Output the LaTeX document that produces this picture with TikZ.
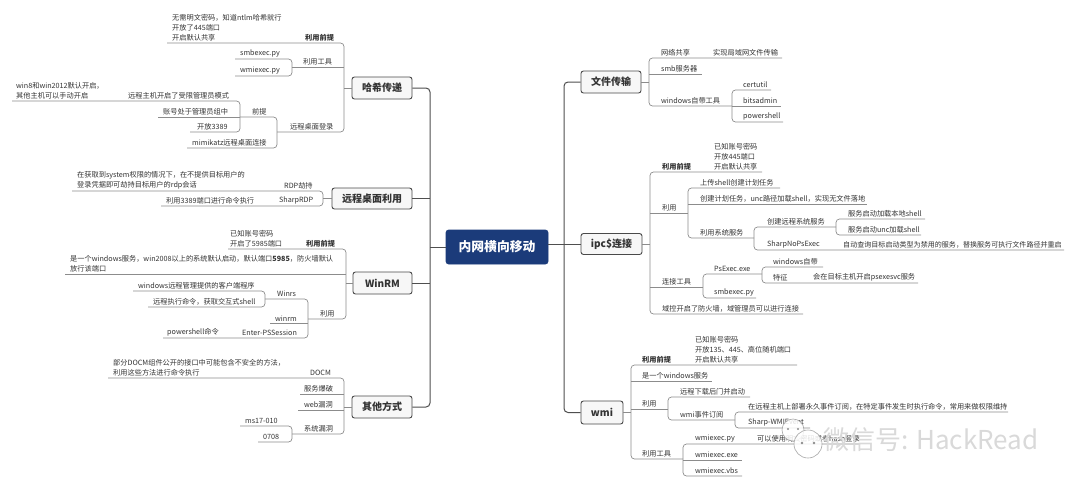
\documentclass[tikz,border=0pt]{standalone}
\usepackage{fontspec}
\setmainfont{Noto Sans CJK SC}
\definecolor{txtc}{HTML}{333333}
\definecolor{linec}{HTML}{8C8C8C}
\definecolor{trunkc}{HTML}{4F4F4F}
\definecolor{boxf}{HTML}{F7F7F7}
\definecolor{boxd}{HTML}{4A4A4A}
\definecolor{navy}{HTML}{1B3B7A}
\newcommand\smallfs{\fontsize{7.2}{10}\selectfont}
\tikzset{
  tx/.style={anchor=south west, inner xsep=0pt, inner ysep=0.8pt, font=\smallfs, text=txtc, align=left},
  tb/.style={tx, font=\smallfs\bfseries},
  mb/.style={draw=boxd, fill=boxf, rounded corners=2.5pt, line width=0.9pt, font=\fontsize{10}{12}\selectfont\bfseries, text=txtc, inner sep=0pt, minimum height=22pt},
  cb/.style={draw=navy, fill=navy, rounded corners=2.5pt, line width=0.6pt, font=\fontsize{12.8}{14}\selectfont\bfseries, text=white, inner sep=0pt, minimum width=102pt, minimum height=34pt},
  ln/.style={draw=linec, line width=0.7pt},
  br/.style={ln, rounded corners=3.5pt},
  trunk/.style={draw=trunkc, line width=1pt, rounded corners=4pt},
}
\begin{document}
\begin{tikzpicture}[x=1pt, y=-1pt]
\useasboundingbox (0,0) rectangle (1080,488);
\fill[white] (0,0) rectangle (1080,488);

% ---------- main nodes ----------
\node[cb] (ctr) at (497,247) {内网横向移动};
\node[mb, minimum width=60pt] (hash) at (382,88) {哈希传递};
\node[mb, minimum width=80pt, minimum height=21pt] (rdp) at (372,198.5) {远程桌面利用};
\node[mb, minimum width=59pt] (winrm) at (382.5,283) {WinRM};
\node[mb, minimum width=60pt] (other) at (382,407) {其他方式};
\node[mb, minimum width=60pt] (file) at (611,82) {文件传输};
\node[mb, minimum width=61pt, minimum height=21pt] (ipc) at (611.5,244) {ipc\$连接};
\node[mb, minimum width=42pt, minimum height=23pt] (wmi) at (602,412.5) {wmi};

% ---------- trunks ----------
\draw[trunk] (hash.east) -- (430,88) -- (430,407) -- (other.east);
\draw[trunk] (rdp.east) -- (430,198.5);
\draw[trunk] (winrm.east) -- (430,283);
\draw[trunk] (ctr.west) -- (430,247);
\draw[trunk] (file.west) -- (564,82) -- (564,412.5) -- (wmi.west);
\draw[trunk] (ctr.east |- ipc.west) -- (ipc.west);

% ---------- 哈希传递 ----------
\draw[br] (167,43) -- (344,43) -- (344,132) -- (277,132);
\draw[ln] (292,67) -- (344,67);
\draw[ln] (344,88) -- (hash.west);
\draw[br] (235,59) -- (292,59) -- (292,76) -- (235,76);
\draw[br] (240,117) -- (277,117) -- (277,148) -- (187,148);
\draw[br] (12,101) -- (240,101) -- (240,132) -- (190,132);
\draw[ln] (158,117) -- (240,117);
\node[tb] (h1) at (305,42) {利用前提};
\node[tx] (h1a) at (172,42) {无需明文密码，知道ntlm哈希就行\\开放了445端口\\开启默认共享};
\node[tx] (h2) at (303,66) {利用工具};
\node[tx] (h2a) at (240,58) {smbexec.py};
\node[tx] (h2b) at (240,75) {wmiexec.py};
\node[tx] (h3) at (290,131) {远程桌面登录};
\node[tx] (h3a) at (252,116) {前提};
\node[tx] (h3a1) at (128,100) {远程主机开启了受限管理员模式};
\node[tx] (h3a1a) at (16,100) {win8和win2012默认开启，\\其他主机可以手动开启};
\node[tx] (h3a2) at (163,116) {账号处于管理员组中};
\node[tx] (h3a3) at (197,131) {开放3389};
\node[tx] (h3b) at (192,147) {mimikatz远程桌面连接};

% ---------- 远程桌面利用 ----------
\draw[br] (72,191) -- (323,191) -- (323,206) -- (161,206);
\draw[ln] (323,198.5) -- (rdp.west);
\node[tx] (r1) at (284,190) {RDP劫持};
\node[tx] (r1a) at (77,190) {在获取到system权限的情况下，在不提供目标用户的\\登录凭据即可劫持目标用户的rdp会话};
\node[tx] (r2) at (279,205) {SharpRDP};
\node[tx] (r2a) at (166,205) {利用3389端口进行命令执行};

% ---------- WinRM ----------
\draw[br] (228,249) -- (346,249) -- (346,319) -- (308,319);
\draw[ln] (65,274) -- (346,274);
\draw[ln] (346,283) -- (winrm.west);
\draw[br] (265,299) -- (308,299) -- (308,338) -- (163,338);
\draw[ln] (270,323) -- (308,323);
\draw[br] (133,291) -- (265,291) -- (265,307) -- (148,307);
\node[tb] (w1) at (306,248) {利用前提};
\node[tx] (w1a) at (230,248) {已知账号密码\\开启了5985端口};
\node[tx] (w2) at (70,273) {是一个windows服务，win2008以上的系统默认启动，默认端口\textbf{5985}，防火墙默认\\放行该端口};
\node[tx] (w3) at (320,318) {利用};
\node[tx] (w3a) at (277,298) {Winrs};
\node[tx] (w3a1) at (138,290) {windows远程管理提供的客户端程序};
\node[tx] (w3a2) at (153,306) {远程执行命令，获取交互式shell};
\node[tx] (w3b) at (275,322) {winrm};
\node[tx] (w3c) at (242,337) {Enter-PSSession};
\node[tx] (w3c1) at (167,337) {powershell命令};

% ---------- 其他方式 ----------
\draw[br] (108,378) -- (344,378) -- (344,434) -- (292,434);
\draw[ln] (300,394) -- (344,394);
\draw[ln] (298,410) -- (344,410);
\draw[ln] (344,407) -- (other.west);
\draw[br] (240,426) -- (292,426) -- (292,442) -- (258,442);
\node[tx] (o1) at (310,377) {DOCM};
\node[tx] (o1a) at (113,377) {部分DOCM组件公开的接口中可能包含不安全的方法，\\利用这些方法进行命令执行};
\node[tx] (o2) at (304,393) {服务爆破};
\node[tx] (o3) at (304,409) {web漏洞};
\node[tx] (o4) at (304,433) {系统漏洞};
\node[tx] (o4a) at (245,425) {ms17-010};
\node[tx] (o4b) at (263,441) {0708};

% ---------- 文件传输 ----------
\draw[br] (782,58) -- (649,58) -- (649,106) -- (732,106);
\draw[ln] (649,74) -- (702,74);
\draw[ln] (file.east) -- (649,82);
\draw[br] (771,90) -- (732,90) -- (732,122) -- (783,122);
\draw[ln] (732,106) -- (781,106);
\node[tx] (f1) at (661,57) {网络共享};
\node[tx] (f1a) at (713,57) {实现局域网文件传输};
\node[tx] (f2) at (661,73) {smb服务器};
\node[tx] (f3) at (661,105) {windows自带工具};
\node[tx] (f3a) at (743,89) {certutil};
\node[tx] (f3b) at (743,105) {bitsadmin};
\node[tx] (f3c) at (743,121) {powershell};

% ---------- ipc$连接 ----------
\draw[br] (762,172) -- (650,172) -- (650,314) -- (803,314);
\draw[ln] (650,213) -- (688,213);
\draw[ln] (650,287) -- (703,287);
\draw[ln] (ipc.east) -- (650,244);
\draw[br] (780,188) -- (688,188) -- (688,238) -- (754,238);
\draw[ln] (688,204) -- (867,204);
\draw[br] (836,227) -- (754,227) -- (754,250) -- (1064,250);
\draw[br] (925,219) -- (836,219) -- (836,235) -- (921,235);
\draw[br] (762,274) -- (703,274) -- (703,298) -- (756,298);
\draw[br] (823,267) -- (762,267) -- (762,283) -- (918,283);
\node[tb] (i1) at (662,171) {利用前提};
\node[tx] (i1a) at (714,171) {已知账号密码\\开放445端口\\开启默认共享};
\node[tx] (i2) at (662,212) {利用};
\node[tx] (i2a) at (700,187) {上传shell创建计划任务};
\node[tx] (i2b) at (700,203) {创建计划任务，unc路径加载shell，实现无文件落地};
\node[tx] (i2c) at (700,237) {利用系统服务};
\node[tx] (i2c1) at (767,226) {创建远程系统服务};
\node[tx] (i2c1a) at (848,218) {服务启动加载本地shell};
\node[tx] (i2c1b) at (848,234) {服务启动unc加载shell};
\node[tx] (i2c2) at (767,249) {SharpNoPsExec};
\node[tx, font=\fontsize{7.05}{10}\selectfont] (i2c2a) at (843,249) {自动查询目标启动类型为禁用的服务，替换服务可执行文件路径并重启};
\node[tx] (i3) at (662,286) {连接工具};
\node[tx] (i3a) at (714,273) {PsExec.exe};
\node[tx] (i3a1) at (773,266) {windows自带};
\node[tx] (i3a2) at (773,282) {特征};
\node[tx] (i3a2a) at (813,282) {会在目标主机开启psexesvc服务};
\node[tx] (i3b) at (714,297) {smbexec.py};
\node[tx] (i4) at (662,313) {域控开启了防火墙，域管理员可以进行连接};

% ---------- wmi ----------
\draw[br] (797,365) -- (631,365) -- (631,459) -- (683,459);
\draw[ln] (631,381) -- (712,381);
\draw[ln] (631,409) -- (668,409);
\draw[ln] (wmi.east) -- (631,412.5);
\draw[br] (750,397) -- (668,397) -- (668,420) -- (735,420);
\draw[br] (1008,412) -- (735,412) -- (735,428) -- (810,428);
\draw[br] (860,444) -- (683,444) -- (683,476) -- (742,476);
\draw[ln] (683,460) -- (742,460);
\node[tb] (m1) at (642,364) {利用前提};
\node[tx] (m1a) at (695,364) {已知账号密码\\开放135、445、高位随机端口\\开启默认共享};
\node[tx] (m2) at (642,380) {是一个windows服务};
\node[tx] (m3) at (642,408) {利用};
\node[tx] (m3a) at (680,396) {远程下载后门并启动};
\node[tx] (m3b) at (680,419) {wmi事件订阅};
\node[tx] (m3b1) at (748,411) {在远程主机上部署永久事件订阅，在特定事件发生时执行命令，常用来做权限维持};
\node[tx] (m3b2) at (748,427) {Sharp-WMIEvent};
\node[tx] (m4) at (642,458) {利用工具};
\node[tx] (m4a) at (695,443) {wmiexec.py};
\node[tx] (m4a1) at (757,443) {可以使用明文密码或者hash登录};
\node[tx] (m4b) at (695,459) {wmiexec.exe};
\node[tx] (m4c) at (695,475) {wmiexec.vbs};

% ---------- watermark ----------
\draw[black!35, fill=white, fill opacity=0.85, line width=0.6pt] (793,430) circle (11pt);
\fill[black!45] (788,429) circle (1.2pt) (798,429) circle (1.2pt);
\draw[black!35, fill=white, fill opacity=0.85, line width=0.6pt] (808,444) circle (14pt);
\fill[black!45] (802,443) circle (1.3pt) (814,443) circle (1.3pt);
\node[font=\fontsize{26}{28}\selectfont, text=black!15, anchor=west, inner sep=0pt] (wm) at (823,440) {微信号: HackRead};
\end{tikzpicture}
\end{document}
